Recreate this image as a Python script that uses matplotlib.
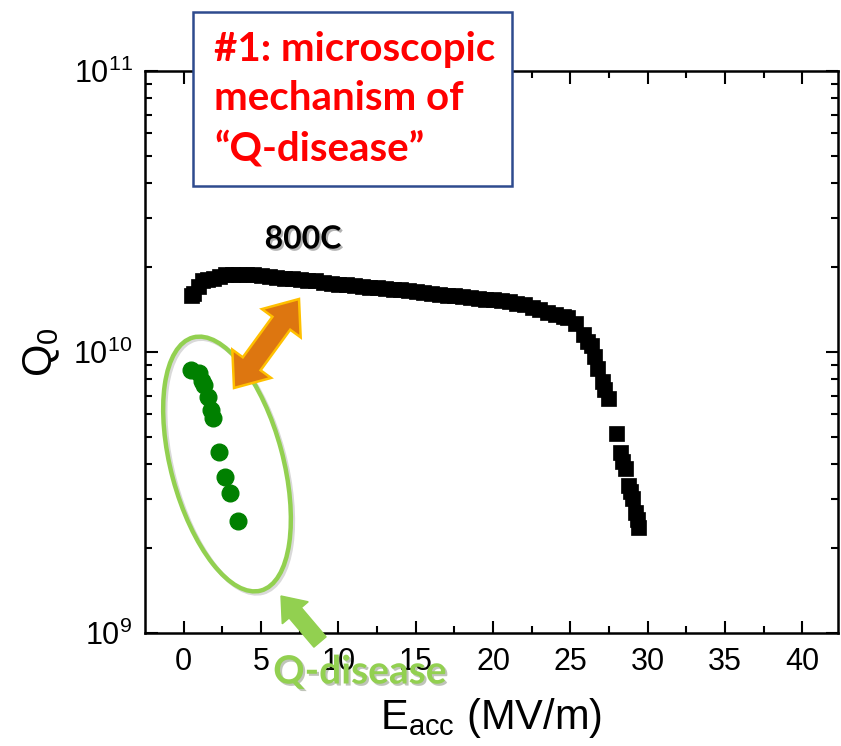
import numpy as np
import matplotlib
matplotlib.use("Agg")
import matplotlib.pyplot as plt
from matplotlib.patches import Ellipse, Polygon, Rectangle
from matplotlib.transforms import IdentityTransform
import matplotlib.patheffects as pe

plt.rcParams['font.family'] = ['Liberation Sans', 'DejaVu Sans']
plt.rcParams['mathtext.default'] = 'regular'

# 800C curve: Eacc (MV/m) and Q0
e_800 = [0.5, 0.6, 0.9, 1.2, 1.5, 1.9, 2.3, 2.7, 3.1, 3.5, 4.0, 4.5, 5.0, 5.5,
         6.0, 6.5, 7.0, 7.5, 8.0, 8.5, 9.0, 9.5, 10.0, 10.5, 11.0, 11.5, 12.0,
         12.5, 13.0, 13.5, 14.0, 14.5, 15.0, 15.5, 16.0, 16.5, 17.0, 17.5, 18.0,
         18.5, 19.0, 19.5, 20.0, 20.5, 21.0, 21.5, 22.0, 22.5, 23.0, 23.5, 24.0,
         24.5, 24.8, 25.3, 25.8, 26.1, 26.3, 26.5, 26.7, 27.05, 27.2, 27.4,
         27.95, 28.2, 28.35, 28.5, 28.7, 28.85, 29.0, 29.2, 29.3, 29.4]
q_800 = [1.60, 1.62, 1.72, 1.80, 1.82, 1.84, 1.87, 1.89, 1.90, 1.90, 1.90, 1.89,
         1.88, 1.87, 1.85, 1.84, 1.83, 1.82, 1.81, 1.80, 1.78, 1.76, 1.74, 1.74,
         1.73, 1.72, 1.71, 1.70, 1.69, 1.68, 1.67, 1.66, 1.65, 1.64, 1.62, 1.61,
         1.60, 1.59, 1.58, 1.57, 1.56, 1.55, 1.54, 1.53, 1.52, 1.50, 1.48, 1.45,
         1.42, 1.39, 1.36, 1.34, 1.33, 1.27, 1.16, 1.09, 1.06, 0.97, 0.877,
         0.789, 0.74, 0.686, 0.515, 0.441, 0.41, 0.386, 0.337, 0.32, 0.302,
         0.27, 0.255, 0.238]
q_800 = [v * 1e10 for v in q_800]

# Q-disease points
e_qd = [0.45, 1.0, 1.2, 1.3, 1.55, 1.75, 1.9, 2.3, 2.7, 3.0, 3.5]
q_qd = [8.6e9, 8.4e9, 7.9e9, 7.6e9, 6.9e9, 6.2e9, 5.8e9, 4.4e9, 3.6e9, 3.15e9, 2.5e9]

W, H = 841, 746
fig = plt.figure(figsize=(W / 100, H / 100), dpi=100)
ax = fig.add_axes([145 / W, 1 - 633 / H, 693 / W, 562 / H])

ax.plot(e_800, q_800, 's', color='black', ms=10.8, mec='black', mew=0.5, zorder=3)
ax.plot(e_qd, q_qd, 'o', color='#008000', ms=12, mec='#008000', zorder=3)

ax.set_yscale('log')
ax.set_xlim(-2.5, 42.3)
ax.set_ylim(1e9, 1e11)
ax.set_xticks(range(0, 45, 5))
ax.set_xticks(np.arange(2.5, 42, 5), minor=True)
ax.tick_params(which='both', direction='in', top=True, right=True, width=1.5)
ax.tick_params(which='major', length=9, labelsize=22)
ax.tick_params(which='minor', length=5)
ax.tick_params(axis='y', pad=9)
ax.tick_params(axis='x', pad=10)
for s in ax.spines.values():
    s.set_linewidth(1.8)

ax.set_xlabel('E$_{acc}$ (MV/m)', fontsize=30, labelpad=14)
ax.set_ylabel('Q$_0$', fontsize=30, labelpad=8)

ident = IdentityTransform()

def px(x, y):
    return np.array([x, H - y], dtype=float)

def arrow_poly(a, b, shaft, head, hlen, double=False):
    a, b = px(*a), px(*b)
    u = (b - a) / np.hypot(*(b - a))
    n = np.array([-u[1], u[0]])
    pts = []
    if double:
        pts += [a, a + hlen * u + head * n, a + hlen * u + shaft * n]
    else:
        pts += [a + shaft * n]
    pts += [b - hlen * u + shaft * n, b - hlen * u + head * n, b,
            b - hlen * u - head * n, b - hlen * u - shaft * n]
    if double:
        pts += [a + hlen * u - shaft * n, a + hlen * u - head * n]
    else:
        pts += [a - shaft * n]
    return pts

# green ellipse round the Q-disease points
ell = Ellipse(px(227, 464), 112, 262, angle=15, fill=False, edgecolor='#92D050',
              lw=3.2, transform=ident, zorder=4,
              path_effects=[pe.SimpleLineShadow(offset=(1.5, -1.5), alpha=0.15), pe.Normal()])
fig.patches.append(ell)

# orange double arrow
orange = Polygon(arrow_poly((234, 388), (299, 299), 11, 24, 30, double=True),
                 closed=True, facecolor='#DD7610', edgecolor='#FFC000', lw=1.8,
                 transform=ident, zorder=5)
fig.patches.append(orange)

# green arrow pointing at the ellipse
garrow = Polygon(arrow_poly((320, 642), (281, 596), 8, 17, 22),
                 closed=True, facecolor='#92D050', edgecolor='#92D050', lw=1,
                 transform=ident, zorder=5)
fig.patches.append(garrow)

fig.text(360 / W, 1 - 672 / H, 'Q-disease', color='#92D050', fontsize=28,
         fontweight='bold', family='Lato', ha='center', va='center', zorder=6,
         path_effects=[pe.SimplePatchShadow(offset=(1.5, -1.5), alpha=0.3), pe.Normal()])
fig.text(303 / W, 1 - 239 / H, '800C', color='black', fontsize=23,
         fontweight='bold', family='Lato', ha='center', va='center', zorder=6,
         path_effects=[pe.SimplePatchShadow(offset=(1.5, -1.5), alpha=0.3), pe.Normal()])

# title box
box = Rectangle(px(193, 186), 319, 174, facecolor='white', edgecolor='#2E4B8E',
                lw=1.8, transform=ident, zorder=6)
fig.patches.append(box)
fig.text(214 / W, 1 - 99 / H, '#1: microscopic\nmechanism of\n\u201cQ-disease\u201d',
         color='#FF0000', fontsize=29, fontweight='bold', family='Lato',
         ha='left', va='center', linespacing=1.42, zorder=7)

fig.savefig('out.png', dpi=100)
